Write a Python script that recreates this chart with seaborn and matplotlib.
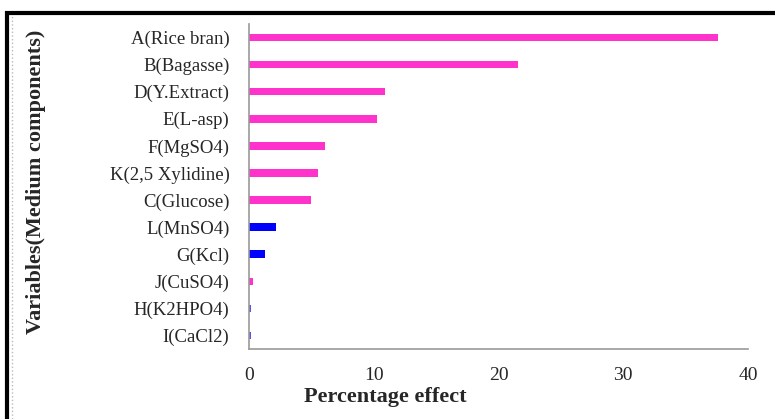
import numpy as np
import pandas as pd
import matplotlib
matplotlib.use('Agg')
import matplotlib.pyplot as plt
import seaborn as sns
from matplotlib.patches import Rectangle

# values
variables = ['A(Rice bran)', 'B(Bagasse)', 'D(Y.Extract)', 'E(L-asp)', 'F(MgSO4)',
             'K(2,5 Xylidine)', 'C(Glucose)', 'L(MnSO4)', 'G(Kcl)', 'J(CuSO4)',
             'H(K2HPO4)', 'I(CaCl2)']
effect = [37.6, 21.6, 10.9, 10.3, 6.1, 5.5, 5.0, 2.2, 1.3, 0.3, 0.15, 0.15]
bar_colors = ['#ff33cc'] * 7 + ['#0000ff', '#0000ff', '#ff33cc', '#5555ee', '#5555ee']

df = pd.DataFrame({'var': variables, 'effect': effect})

sns.set_style('white')
plt.rcParams['font.family'] = ['Liberation Serif', 'DejaVu Serif']

fig = plt.figure(figsize=(7.75, 4.19), dpi=100)
ax = fig.add_axes([249 / 775, 1 - 349 / 419, 499 / 775, 325 / 419])

sns.barplot(data=df, x='effect', y='var', hue='var', palette=bar_colors,
            order=variables, legend=False, width=0.28, ax=ax,
            edgecolor='none', saturation=1)

ax.set_xlim(0, 40)
ax.set_ylim(11.5, -0.5)
ax.set_xticks([0, 10, 20, 30, 40])
ax.tick_params(axis='x', direction='in', length=4, color='#999999',
               labelsize=14, pad=13)
ax.tick_params(axis='y', which='major', length=0, labelsize=13.5, pad=14)
ax.set_yticks(np.arange(-0.5, 12, 1), minor=True)
ax.tick_params(axis='y', which='minor', direction='out', length=5, color='#999999')

for s in ['top', 'right']:
    ax.spines[s].set_visible(False)
for s in ['left', 'bottom']:
    ax.spines[s].set_color('#999999')
    ax.spines[s].set_linewidth(1.2)

ax.set_xlabel('Percentage effect', fontsize=16, fontweight='bold')
ax.xaxis.set_label_coords(0.273, -0.117)
ax.set_ylabel('Variables(Medium components)', fontsize=16, fontweight='bold')
ax.yaxis.set_label_coords((46 - 249) / 499, 0.515)

# outer frame
fig.patches.append(Rectangle((7 / 775, -0.05), 1.0, 1 - 13 / 419 + 0.05,
                             transform=fig.transFigure, fill=False,
                             edgecolor='black', linewidth=3))
fig.lines.append(plt.Line2D([12 / 775, 12 / 775], [0, 1 - 16 / 419],
                            transform=fig.transFigure, color='#bbbbbb',
                            linewidth=1, linestyle=':'))

fig.savefig('out.png', dpi=100)
